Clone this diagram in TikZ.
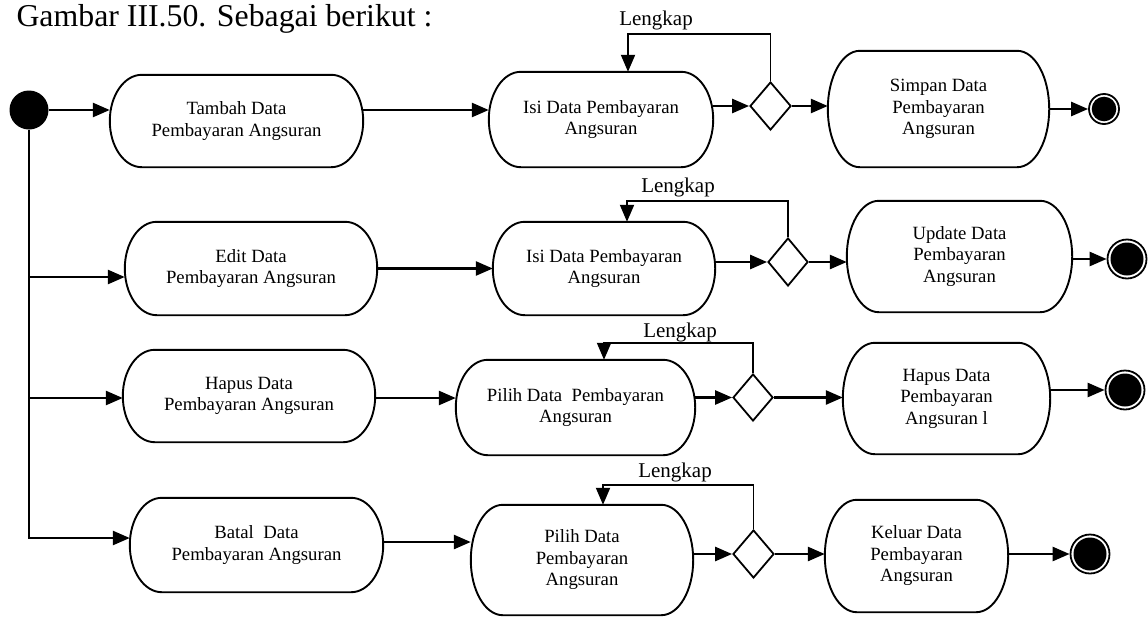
\documentclass[tikz,border=0pt]{standalone}
\usepackage{fontspec}
\setmainfont{Liberation Serif}
\usetikzlibrary{shapes.geometric,arrows.meta,calc}

% activity outline: flat top and bottom, elliptical ends
\newcommand\capsule[1]{%
  \draw[line width=1.9pt] let \p1=(#1.north west), \p2=(#1.south east) in
    (\x1+32pt,\y1) -- (\x2-32pt,\y1)
    arc[start angle=90,end angle=-90,x radius=32pt,y radius={(\y1-\y2)/2}]
    -- (\x1+32pt,\y2)
    arc[start angle=270,end angle=90,x radius=32pt,y radius={(\y1-\y2)/2}]
    -- cycle;}

% final state: ring with a black disk inside
\newcommand\finaldot[2]{\fill (#1.center) circle[radius=#2];}

\begin{document}
\begin{tikzpicture}[x=1pt,y=-1pt,
  act/.style={draw=none, inner sep=0pt, align=center,
    font=\fontsize{18.7}{21.5}\selectfont},
  flow/.style={line width=2.6pt, -{Triangle[length=17pt,width=14pt]}},
  back/.style={line width=1.9pt, -{Triangle[length=17pt,width=14pt]}},
  choice/.style={diamond, draw, line width=1.8pt, inner sep=0pt},
  guard/.style={font=\fontsize{21}{24}\selectfont},
  startdot/.style={circle, fill=black, inner sep=0pt, minimum size=39pt},
  enddot/.style={circle, draw, line width=1.8pt, inner sep=0pt},
]
\useasboundingbox (0,0) rectangle (1148,616);

\node[anchor=base west, font=\fontsize{31.8}{36}\selectfont] (title) at (13,26)
  {Gambar III.50. Sebagai berikut :};

\node[startdot] (init) at (29,110) {};

% ---- row 1: tambah
\node[act, minimum width=253pt, minimum height=92pt] (tambah) at (236.5,121)
  {Tambah Data\\Pembayaran Angsuran};
\node[act, minimum width=224pt, minimum height=95pt] (isi1) at (601,119.5)
  {Isi Data Pembayaran\\Angsuran};
\node[choice, minimum width=41pt, minimum height=48pt] (d1) at (770.5,106) {};
\node[act, minimum width=221pt, minimum height=116pt] (simpan) at (938.5,109)
  {Simpan Data\\Pembayaran\\Angsuran};
\node[enddot, minimum size=30pt] (f1) at (1104,109) {};
\finaldot{f1}{12.3pt}
\node[guard] (g1) at (656,20) {Lengkap};
\coordinate (l1) at (628,34);

% ---- row 2: edit
\node[act, minimum width=252pt, minimum height=93pt] (edit) at (251,268.5)
  {Edit Data\\Pembayaran Angsuran};
\node[act, minimum width=222pt, minimum height=93pt] (isi2) at (604,268.5)
  {Isi Data Pembayaran\\Angsuran};
\node[choice, minimum width=40pt, minimum height=48pt] (d2) at (788,262) {};
\node[act, minimum width=225pt, minimum height=111pt] (update) at (959.5,256.5)
  {Update Data\\Pembayaran\\Angsuran};
\node[enddot, minimum size=39pt] (f2) at (1127,259) {};
\finaldot{f2}{16.5pt}
\node[guard] (g2) at (678,187) {Lengkap};
\coordinate (l2) at (627,201);

% ---- row 3: hapus
\node[act, minimum width=252pt, minimum height=92pt] (hapus) at (249,396)
  {Hapus Data\\Pembayaran Angsuran};
\node[act, minimum width=239pt, minimum height=95pt] (pilih3) at (575.5,407.5)
  {Pilih Data\ \ Pembayaran\\Angsuran};
\node[choice, minimum width=40pt, minimum height=47pt] (d3) at (753,397.5) {};
\node[act, minimum width=207pt, minimum height=111pt] (hapus3) at (946.5,398.5)
  {Hapus Data\\Pembayaran\\Angsuran l};
\node[enddot, minimum size=39pt] (f3) at (1125,390) {};
\finaldot{f3}{16.5pt}
\node[guard] (g3) at (680,332) {Lengkap};
\coordinate (l3) at (604,343);

% ---- row 4: batal
\node[act, minimum width=253pt, minimum height=94pt] (batal) at (256.5,545)
  {Batal\ \ Data\\Pembayaran Angsuran};
\node[act, minimum width=222pt, minimum height=110pt] (pilih4) at (582,560)
  {Pilih Data\\Pembayaran\\Angsuran};
\node[choice, minimum width=41pt, minimum height=48pt] (d4) at (753.5,554) {};
\node[act, minimum width=183pt, minimum height=112pt] (keluar) at (916.5,556)
  {Keluar Data\\Pembayaran\\Angsuran};
\node[enddot, minimum size=39pt] (f4) at (1090,554) {};
\finaldot{f4}{16.5pt}
\node[guard] (g4) at (675,472) {Lengkap};
\coordinate (l4) at (603,485);

% outlines of the activities
\foreach \nm in {tambah,isi1,simpan,edit,isi2,update,hapus,pilih3,hapus3,batal,pilih4,keluar}
  {\capsule{\nm}}

% ---- flows, row 1
\draw[flow] (init) -- (init -| tambah.west);
\draw[flow] (tambah.east |- init) -- (isi1.west |- init);
\draw[flow] (isi1.east |- d1) -- (d1);
\draw[flow] (d1) -- (d1 -| simpan.west);
\draw[flow] (simpan) -- (f1);
\draw[back] (d1.north) |- (l1) -- (l1 |- isi1.north);

% ---- flows, row 2
\coordinate (e2) at ([yshift=-8.5pt]edit.west);
\draw[flow] (init |- e2) -- (e2);
\draw[flow] (edit) -- (isi2);
\draw[flow] (isi2.east |- d2) -- (d2);
\draw[flow] (d2) -- (d2 -| update.west);
\draw[flow] (update.east |- f2) -- (f2);
\draw[back] (d2.north) |- (l2) -- (l2 |- isi2.north);

% ---- flows, row 3
\coordinate (e3) at ([yshift=-2pt]hapus.west);
\draw[flow] (init |- e3) -- (e3);
\draw[flow] (hapus.east |- e3) -- (pilih3.west |- e3);
\draw[flow] (pilih3.east |- d3) -- (d3);
\draw[flow] (d3) -- (d3 -| hapus3.west);
\draw[flow] (hapus3.east |- f3) -- (f3);
\draw[back] (d3.north) |- (l3) -- (l3 |- pilih3.north);

% ---- flows, row 4 (the trunk ends here)
\coordinate (e4) at ([yshift=7pt]batal.west);
\draw[flow] (init) |- (e4);
\coordinate (e5) at ([yshift=3pt]batal.east);
\draw[flow] (e5) -- (e5 -| pilih4.west);
\draw[flow] (pilih4.east |- d4) -- (d4);
\draw[flow] (d4) -- (d4 -| keluar.west);
\draw[flow] (keluar.east |- f4) -- (f4);
\draw[back] (d4.north) |- (l4) -- (l4 |- pilih4.north);
\end{tikzpicture}
\end{document}
